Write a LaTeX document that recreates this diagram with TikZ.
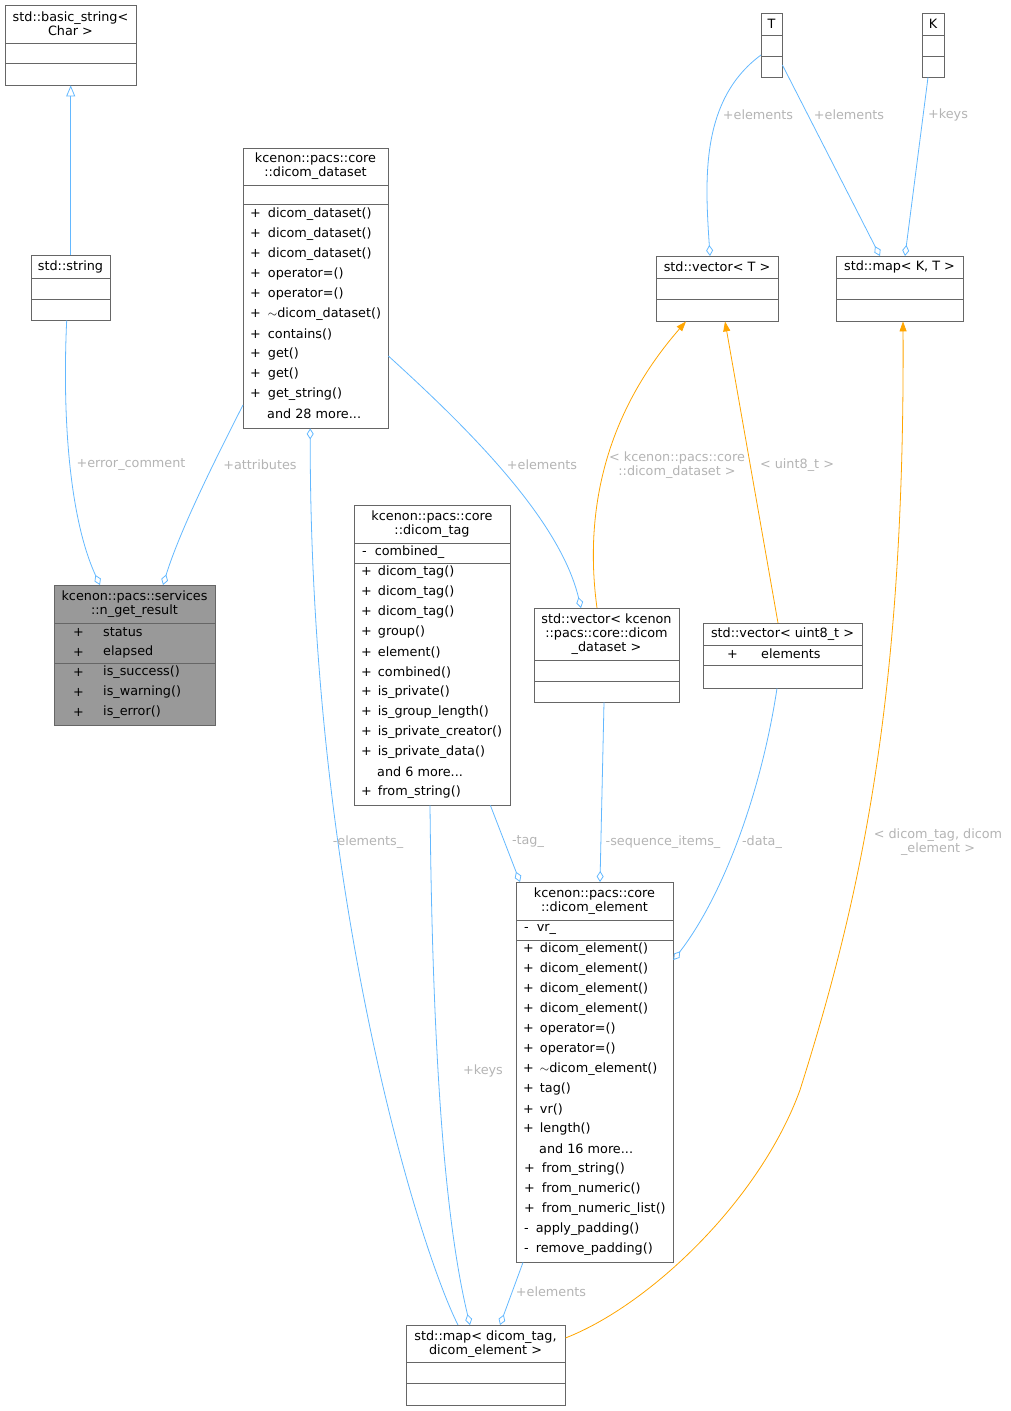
\documentclass[tikz,border=0pt]{standalone}
\usepackage{fontspec}
\setmainfont{DejaVu Sans}
\usetikzlibrary{arrows.meta}
\definecolor{edgeblue}{HTML}{63B8FF}
\definecolor{edgeorange}{HTML}{FFA500}
\definecolor{lblgray}{HTML}{B4B4B4}
\definecolor{boxline}{HTML}{666666}
\tikzset{
  box/.style={draw=boxline, fill=white, inner sep=0pt, anchor=north west},
  txt/.style={font=\fontsize{12.8}{14}\selectfont, inner sep=0pt, anchor=west},
  ttl/.style={font=\fontsize{12.8}{14}\selectfont, inner sep=0pt, align=center},
  lbl/.style={font=\fontsize{12.8}{14}\selectfont, text=lblgray, inner sep=1pt, align=center},
  agg/.style={draw=edgeblue, line width=0.8pt, -{Diamond[open, length=11pt, width=7pt]}},
  tmpl/.style={draw=edgeorange, line width=0.8pt, -{Triangle[length=10pt, width=7pt]}},
  inh/.style={draw=edgeblue, line width=0.8pt, -{Triangle[open, length=11pt, width=9pt]}},
}
% box: name, x0, y0, x1, y1
\newcommand{\umlbox}[6][]{%
  \node[box, #1, minimum width={(#5-#3)*1pt}, minimum height={(#6-#4)*1pt}] (#2) at (#3,#4) {};}
\newcommand{\sep}[3]{\draw[boxline] (#1.west |- 0,#3) -- (#1.east |- 0,#3);}
\begin{document}
\begin{tikzpicture}[x=1pt, y=-1pt]
  \useasboundingbox (0,0) rectangle (1011,1411);

  %% classes
  \umlbox{bstr}{5}{5}{136}{85}
  \node[ttl] (bstrT) at (70.5,24) {std::basic\_string<\\Char >};
  \sep{bstr}{}{43} \sep{bstr}{}{63}

  \umlbox{str}{31}{255}{110}{320}
  \node[ttl] (strT) at (70.5,267) {std::string};
  \sep{str}{}{278} \sep{str}{}{299}

  \umlbox{dset}{243}{148}{388}{428}
  \node[ttl] (dsetT) at (315.5,166) {kcenon::pacs::core\\::dicom\_dataset};
  \sep{dset}{}{185} \sep{dset}{}{204}
  \foreach \t [count=\i] in {dicom\_dataset(),dicom\_dataset(),dicom\_dataset(),operator=(),operator=(),$\sim$dicom\_dataset(),contains(),get(),get(),get\_string()}
    \node[txt] at (250,194+20*\i) {+\hspace{7pt}\t};
  \node[txt] (dsetM) at (267,414) {and 28 more...};

  \umlbox[fill=black!40]{res}{54}{585}{215}{725}
  \node[ttl] (resT) at (134.5,604) {kcenon::pacs::services\\::n\_get\_result};
  \sep{res}{}{623} \sep{res}{}{663}
  \foreach \t/\y in {status/632,elapsed/652,is\_success()/672,is\_warning()/692,is\_error()/712}{
    \node[txt] at (73,\y) {+};
    \node[txt] at (103,\y) {\t};
  }

  \umlbox{tag}{354}{505}{510}{805}
  \node[ttl] (tagT) at (432,524) {kcenon::pacs::core\\::dicom\_tag};
  \sep{tag}{}{543} \sep{tag}{}{563}
  \node[txt] at (362,552) {-\hspace{8pt}combined\_};
  \foreach \t [count=\i] in {dicom\_tag(),dicom\_tag(),dicom\_tag(),group(),element(),combined(),is\_private(),is\_group\_length(),is\_private\_creator(),is\_private\_data()}
    \node[txt] at (361,552+20*\i) {+\hspace{6pt}\t};
  \node[txt] at (377,772) {and 6 more...};
  \node[txt] at (361,792) {+\hspace{6pt}from\_string()};

  \umlbox{vds}{534}{608}{679}{702}
  \node[ttl] (vdsT) at (606.5,634) {std::vector< kcenon\\::pacs::core::dicom\\\_dataset >};
  \sep{vds}{}{660} \sep{vds}{}{681}

  \umlbox{vu8}{703}{623}{862}{688}
  \node[ttl] (vu8T) at (782.5,634) {std::vector< uint8\_t >};
  \sep{vu8}{}{645} \sep{vu8}{}{665}
  \node[txt] at (727,654) {+}; \node[txt] at (761,654) {elements};

  \umlbox{T}{761}{13}{782}{77}
  \node[ttl] (TT) at (771.5,24) {T};
  \sep{T}{}{35} \sep{T}{}{56}

  \umlbox{K}{922}{13}{944}{77}
  \node[ttl] (KT) at (933,24) {K};
  \sep{K}{}{35} \sep{K}{}{56}

  \umlbox{vT}{656}{256}{778}{321}
  \node[ttl] (vTT) at (717,267) {std::vector< T >};
  \sep{vT}{}{278} \sep{vT}{}{299}

  \umlbox{mKT}{836}{256}{963}{321}
  \node[ttl] (mKTT) at (899.5,267) {std::map< K, T >};
  \sep{mKT}{}{278} \sep{mKT}{}{299}

  \umlbox{elem}{516}{882}{673}{1262}
  \node[ttl] (elemT) at (594.5,901) {kcenon::pacs::core\\::dicom\_element};
  \sep{elem}{}{920} \sep{elem}{}{940}
  \node[txt] at (524,929) {-\hspace{8pt}vr\_};
  \foreach \t [count=\i] in {dicom\_element(),dicom\_element(),dicom\_element(),dicom\_element(),operator=(),operator=(),$\sim$dicom\_element(),tag(),vr(),length()}
    \node[txt] at (523,929+20*\i) {+\hspace{6pt}\t};
  \node[txt] at (539,1149) {and 16 more...};
  \foreach \s/\t [count=\i] in {+/from\_string(),+/from\_numeric(),+/from\_numeric\_list(),-/apply\_padding(),-/remove\_padding()}
    \node[txt] at (524,1149+20*\i) {\s\hspace{7pt}\t};

  \umlbox{mte}{406}{1325}{565}{1405}
  \node[ttl] (mteT) at (485.5,1344) {std::map< dicom\_tag,\\dicom\_element >};
  \sep{mte}{}{1362} \sep{mte}{}{1383}

  %% connectors
  \draw[inh] (str.north) -- (str.north |- bstr.south);
  \draw[agg] ([xshift=-4pt]str.south) .. controls (62,420) and (70,520) .. ([xshift=46pt]res.north west);
  \draw[agg] ([yshift=-257pt]dset.north west) .. controls (215,460) and (180,530) .. ([xshift=109pt]res.north west);
  \draw[agg] ([xshift=52pt]mte.north west) .. controls (420,1250) and (310,900) .. ([xshift=-5.5pt]dset.south);
  \draw[agg] ([yshift=-208pt]dset.north east) .. controls (470,430) and (560,520) .. ([xshift=47pt]vds.north west);
  \draw[tmpl] ([xshift=63pt]vds.north west) .. controls (585,520) and (600,420) .. ([xshift=30pt]vT.south west);
  \draw[tmpl] ([xshift=75pt]vu8.north west) -- ([xshift=69pt]vT.south west);
  \draw[agg] ([yshift=-42pt]T.north west) .. controls (700,100) and (705,180) .. ([xshift=54pt]vT.north west);
  \draw[agg] ([yshift=-52pt]T.north east) -- ([xshift=44pt]mKT.north west);
  \draw[agg] ([xshift=6pt]K.south west) -- ([xshift=69pt]mKT.north west);
  \draw[tmpl] ([yshift=-13pt]mte.north east) .. controls (650,1305) and (760,1200) .. (800,1090)
    .. controls (860,900) and (905,700) .. ([xshift=67pt]mKT.south west);
  \draw[agg] ([xshift=70pt]vds.south west) -- ([xshift=84pt]elem.north west);
  \draw[agg] ([xshift=74pt]vu8.south west) .. controls (760,800) and (720,900) .. ([yshift=-78pt]elem.north east);
  \draw[agg] ([xshift=-20pt]tag.south east) -- ([xshift=4pt]elem.north west);
  \draw[agg] ([xshift=76pt]tag.south west) .. controls (432,1000) and (440,1200) .. ([xshift=64pt]mte.north west);
  \draw[agg] ([xshift=7pt]elem.south west) -- ([xshift=94pt]mte.north west);

  %% labels
  \node[lbl] (l1) at (131,465) {+error\_comment};
  \node[lbl] (l2) at (260,465) {+attributes};
  \node[lbl] (l3) at (368,842) {-elements\_};
  \node[lbl] (l4) at (542,465) {+elements};
  \node[lbl] (l5) at (677,465) {< kcenon::pacs::core\\::dicom\_dataset >};
  \node[lbl] (l6) at (797,465) {< uint8\_t >};
  \node[lbl] (l7) at (758,115) {+elements};
  \node[lbl] (l8) at (849,115) {+elements};
  \node[lbl] (l9) at (948,115) {+keys};
  \node[lbl] (l10) at (938,842) {< dicom\_tag, dicom\\\_element >};
  \node[lbl] (l11) at (663,842) {-sequence\_items\_};
  \node[lbl] (l12) at (762,842) {-data\_};
  \node[lbl] (l13) at (528,842) {-tag\_};
  \node[lbl] (l14) at (483,1071) {+keys};
  \node[lbl] (l15) at (551,1292) {+elements};
\end{tikzpicture}
\end{document}
